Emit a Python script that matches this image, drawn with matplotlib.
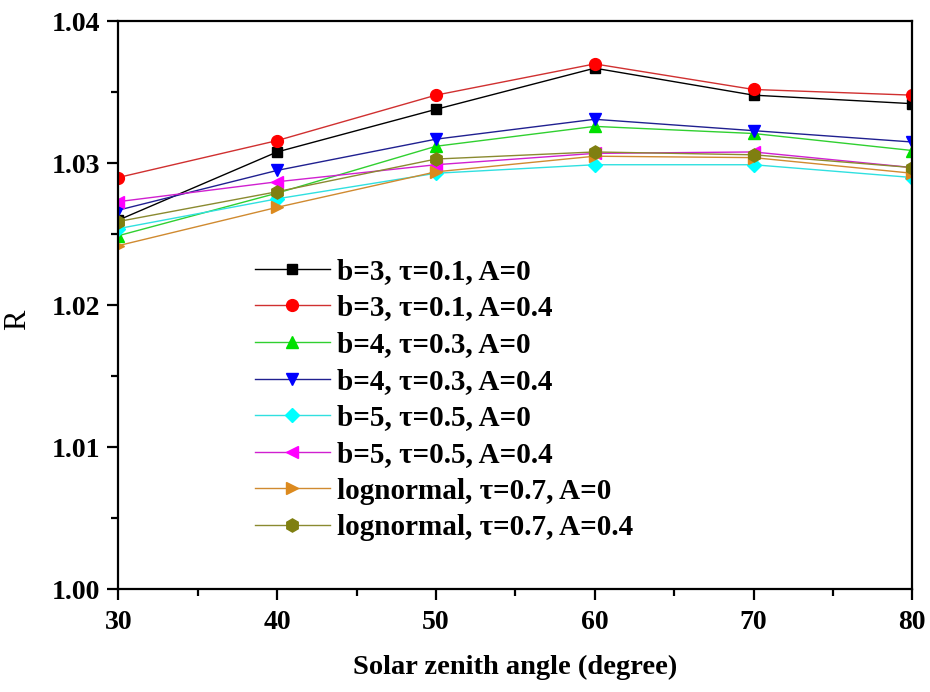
import numpy as np
import matplotlib.pyplot as plt
from matplotlib.ticker import MultipleLocator

# Solar zenith angle (degree)
zenith = [30, 40, 50, 60, 70, 80]

# R for each aerosol case
r_b3_a0 = [1.0260, 1.0308, 1.0338, 1.0367, 1.0348, 1.0342]
r_b3_a04 = [1.0290, 1.0316, 1.0348, 1.0370, 1.0352, 1.0348]
r_b4_a0 = [1.0249, 1.0279, 1.0312, 1.0326, 1.0321, 1.0309]
r_b4_a04 = [1.0267, 1.0295, 1.0317, 1.0331, 1.0323, 1.0315]
r_b5_a0 = [1.0254, 1.0275, 1.0293, 1.0299, 1.0299, 1.0290]
r_b5_a04 = [1.0273, 1.0287, 1.0299, 1.0307, 1.0308, 1.0297]
r_logn_a0 = [1.0242, 1.0269, 1.0294, 1.0305, 1.0304, 1.0293]
r_logn_a04 = [1.0259, 1.0280, 1.0303, 1.0308, 1.0306, 1.0297]

etiketler = [
    'b=3, τ=0.1, A=0',
    'b=3, τ=0.1, A=0.4',
    'b=4, τ=0.3, A=0',
    'b=4, τ=0.3, A=0.4',
    'b=5, τ=0.5, A=0',
    'b=5, τ=0.5, A=0.4',
    'lognormal, τ=0.7, A=0',
    'lognormal, τ=0.7, A=0.4',
]
seriler = [r_b3_a0, r_b3_a04, r_b4_a0, r_b4_a04, r_b5_a0, r_b5_a04, r_logn_a0, r_logn_a04]
renkler = ['black', 'red', '#00e000', '#0000ff', '#00ffff', '#ff00ff', '#dc8a1e', '#7f7f10']
cizgi_renk = ['black', '#d03030', '#30d030', '#202090', '#30e0e0', '#d020d0', '#d08a30', '#8a8a30']
isaretler = ['s', 'o', '^', 'v', 'D', '<', '>', 'h']
boyutlar = [7.5, 8.5, 9, 9, 7.5, 9, 9, 9.5]

plt.rcParams['font.family'] = ['Liberation Serif', 'DejaVu Serif']

fig = plt.figure(figsize=(9.3, 6.92), dpi=100)
ax = fig.add_axes([0.1272, 0.1484, 0.8538, 0.8208])

for y, lab, c, lc, m, s in zip(seriler, etiketler, renkler, cizgi_renk, isaretler, boyutlar):
    ax.plot(zenith, y, color=lc, linewidth=1.0, marker=m, markersize=s,
            markerfacecolor=c, markeredgecolor=c, label=lab)

ax.set_xlim(30, 80)
ax.set_ylim(1.00, 1.04)
ax.xaxis.set_major_locator(MultipleLocator(10))
ax.xaxis.set_minor_locator(MultipleLocator(5))
ax.yaxis.set_major_locator(MultipleLocator(0.01))
ax.yaxis.set_minor_locator(MultipleLocator(0.005))
ax.set_yticklabels([f'{v:.2f}' for v in ax.get_yticks()])

ax.tick_params(which='major', direction='out', length=8, width=1.6,
               labelsize=20, top=False, right=False)
ax.tick_params(which='minor', direction='out', length=5, width=1.6,
               top=False, right=False)
ax.tick_params(axis='x', which='major', pad=7)
ax.tick_params(axis='y', which='major', pad=5)
for lbl in ax.get_xticklabels() + ax.get_yticklabels():
    lbl.set_fontweight('bold')
for sp in ax.spines.values():
    sp.set_linewidth(1.6)

ax.set_xlabel('Solar zenith angle (degree)', fontsize=20.5, fontweight='bold')
ax.xaxis.set_label_coords(0.5, -0.1157)
ax.set_ylabel('R', fontsize=22)
ax.yaxis.set_label_coords(-0.1087, 0.474)

leg = ax.legend(loc='upper left', bbox_to_anchor=(0.157, 0.604), frameon=False,
                borderaxespad=0, handlelength=2.57, markerscale=1.0,
                labelspacing=0.33, handletextpad=0.25,
                prop={'size': 21, 'weight': 'bold'})

fig.savefig('out.png', dpi=100)
